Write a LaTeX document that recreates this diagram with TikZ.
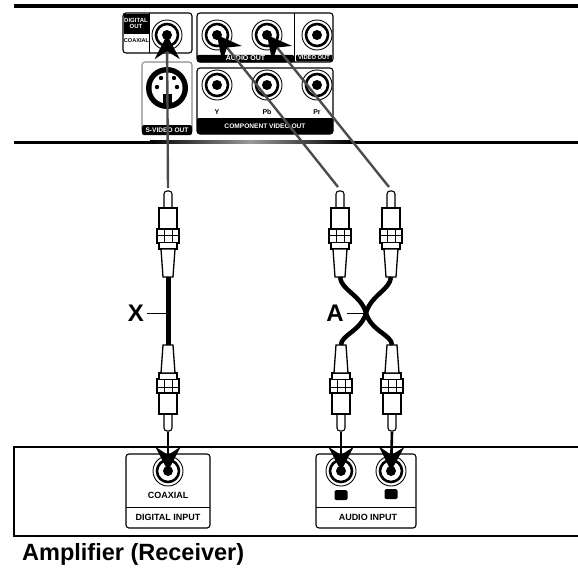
\documentclass[tikz,border=0pt]{standalone}
\usepackage{fontspec}
\setmainfont{Liberation Sans}
\usepackage{tikz}
\usetikzlibrary{positioning,calc,arrows.meta}
\tikzstyle{signal} = [line width=2.4pt, black!70, -{Stealth[length=24pt,width=25pt,inset=8pt,color=black]}]
\tikzstyle{inputsignal} = [line width=2.6pt, black, -{Stealth[length=24pt,width=25pt,inset=8pt,color=black]}]
\tikzstyle{panel} = [draw, line width=1.1pt, rounded corners=3pt, inner sep=0pt]
\tikzstyle{band} = [fill=black, rounded corners=2pt, inner sep=0pt]
\tikzstyle{ringouter} = [circle, draw, line width=0.9pt, fill=white, minimum size=30pt, inner sep=0pt]
\tikzstyle{ringinner} = [circle, draw, line width=2.6pt, minimum size=22pt, inner sep=0pt]
\tikzstyle{eye} = [circle, fill=black, minimum size=10pt, inner sep=0pt]
\tikzstyle{tinywhite} = [text=white, font=\fontsize{6}{6.5}\selectfont\bfseries, inner sep=0pt, align=center]
\tikzstyle{tinyblack} = [text=black, font=\fontsize{6}{6.5}\selectfont\bfseries, inner sep=0pt]
\tikzstyle{caption} = [text=black, font=\fontsize{9}{9.5}\selectfont\bfseries, inner sep=0pt]
\tikzstyle{cablelabel} = [font=\fontsize{24}{24}\selectfont\bfseries, inner sep=0pt]
% plug with its pin pointing up, origin at the pin end
\tikzset{rcaplug/.pic={
    \coordinate (-tip) at (0,0);
    \draw[line width=1.1pt, fill=white, rounded corners=3pt] (-4,17) -- (-4,0) -- (4,0) -- (4,17);
    \draw[line width=1.3pt, fill=white] (-9,38) -- (-9,17) -- (9,17) -- (9,38);
    \draw[line width=1.3pt, fill=white] (-11,38) rectangle (11,52);
    \draw[line width=0.8pt] (-11,44) -- (11,44) (-4,38) -- (-4,52) (4,38) -- (4,52);
    \draw[line width=1.3pt, fill=white] (-9,52) -- (-9,58) -- (9,58) -- (9,52);
    \draw[line width=1.3pt, fill=white] (-7,58) -- (-5,86) -- (5,86) -- (7,58) -- cycle;
    \coordinate (-tail) at (0,86);
}}

\begin{document}
\begin{tikzpicture}[x=1pt, y=-1pt]
    \useasboundingbox (0,0) rectangle (578,568);

    % Rules
    \coordinate (topa) at (14,6);
    \coordinate (topb) at (578,6);
    \coordinate (mida) at (14,142.5);
    \coordinate (midb) at (578,142.5);
    \draw[line width=3.4pt] (topa) -- (topb);
    \draw[line width=3.4pt] (mida) -- (midb);
    \shade[left color=black, right color=black, middle color=black!40] (150,140.8) rectangle (350,143);

    % Player panels
    \node[panel, minimum width=69pt, minimum height=40pt] (digitalout) at (157.5,33) {};
    \node[panel, draw=black!45, minimum width=50pt, minimum height=72pt] (svideoout) at (167,98) {};
    \node[panel, minimum width=136pt, minimum height=49pt] (audioout) at (265,37.5) {};
    \node[panel, minimum width=136pt, minimum height=66pt] (componentout) at (265,101) {};
    \draw[line width=1pt] (149,13) -- (149,53);
    \draw[line width=1pt] (294,13) -- (294,62);

    % Panel bands
    \node[fill=black, minimum width=25pt, minimum height=20pt, inner sep=0pt] (digitalband) at (136,23.5) {};
    \node[tinywhite] (digitaltext) at (digitalband) {DIGITAL\\OUT};
    \node[tinyblack, font=\fontsize{5.6}{6}\selectfont\bfseries] (coaxtext) at (136.5,41) {COAXIAL};
    \node[band, minimum width=50pt, minimum height=10pt] (svideoband) at (167,130) {};
    \node[tinywhite, font=\fontsize{6.6}{7}\selectfont\bfseries] (svideotext) at (svideoband) {S-VIDEO OUT};
    \node[band, minimum width=97pt, minimum height=7.5pt] (audioband) at (245.5,58.5) {};
    \node[tinywhite, font=\fontsize{7}{7}\selectfont\bfseries] (audiotext) at (audioband) {AUDIO OUT};
    \node[band, minimum width=36pt, minimum height=6.5pt, rounded corners=1pt] (videoband) at (314,58) {};
    \node[tinywhite, font=\fontsize{5.8}{6}\selectfont\bfseries] (videotext) at (videoband) {VIDEO OUT};
    \node[band, minimum width=136pt, minimum height=16pt] (componentband) at (265,126) {};
    \node[tinywhite, font=\fontsize{6.6}{7}\selectfont\bfseries] (componenttext) at (componentband) {COMPONENT VIDEO OUT};
    \node[tinyblack, font=\fontsize{7}{7}\selectfont\bfseries] (ytext) at (217,112) {Y};
    \node[tinyblack, font=\fontsize{7}{7}\selectfont\bfseries] (pbtext) at (267,112) {Pb};
    \node[tinyblack, font=\fontsize{7}{7}\selectfont\bfseries] (prtext) at (317,112) {Pr};

    % S-video socket
    \node[circle, fill=black, minimum size=42pt, inner sep=0pt] (svideo) at (167,88) {};
    \fill[white] (svideo) circle (15.5pt);
    \fill (161,78) circle (2.2pt) (174,78) circle (2.2pt) (157,87) circle (2.2pt) (177,87) circle (2.2pt);
    \fill (163,94) rectangle (172,106);

    % Sockets
    \foreach \name/\x/\y in {coaxout/167/35,audiol/217/35,audior/267/35,videoout/317/35,yout/217/85,pbout/267/85,prout/317/85,coaxin/168/471,audioinl/341/471,audioinr/391/471} {
        \node[ringouter] (\name) at (\x,\y) {};
        \node[ringinner] (\name ring) at (\name) {};
        \node[eye] (\name eye) at (\name) {};
    }

    % Plugs, upper row
    \foreach \name/\x in {xtop/168,atopl/340,atopr/391} {
        \pic (\name) at (\x,191) {rcaplug};
    }
    % Plugs, lower row
    \foreach \name/\x in {xbot/168,abotl/341,abotr/392} {
        \pic[yscale=-1] (\name) at (\x,431) {rcaplug};
    }

    % Cables
    \coordinate (across) at (366,313);
    \draw[line width=5pt] (xtop-tail) -- (xbot-tail);
    \draw[line width=4.5pt] (atopl-tail) .. controls (341,290) and (361,295) .. (across) .. controls (371,331) and (392,335) .. (abotr-tail);
    \draw[line width=4.5pt] (atopr-tail) .. controls (390,290) and (371,295) .. (across) .. controls (361,331) and (341,335) .. (abotl-tail);

    % Cable labels
    \node[cablelabel] (xlabel) at (136,313) {X};
    \node[cablelabel] (alabel) at (335,313) {A};
    \draw[line width=0.9pt] (xlabel.east) ++(3,0) -- (xtop-tail |- xlabel);
    \draw[line width=0.9pt] (alabel.east) ++(3,0) -- (across);

    % Amplifier
    \coordinate (ampa) at (578,447);
    \coordinate (ampb) at (578,536);
    \draw[line width=2.4pt] (ampa) -- (14,447) -- (14,536) -- (ampb);
    \node[panel, minimum width=84pt, minimum height=74pt] (digitalin) at (168,491) {};
    \node[panel, minimum width=100pt, minimum height=74pt] (audioin) at (366,491) {};
    \draw[line width=1pt] (126,507) -- (210,507);
    \draw[line width=1pt] (316,507) -- (416,507);
    \node[caption] (coaxialtext) at (168,495) {COAXIAL};
    \node[caption] (digitalintext) at (168,517) {DIGITAL INPUT};
    \node[caption] (audiointext) at (368,517) {AUDIO INPUT};
    \node[fill=black, rounded corners=1.5pt, minimum width=13pt, minimum height=10pt, inner sep=0pt] (markl) at (341,495) {};
    \node[fill=black, rounded corners=1.5pt, minimum width=13pt, minimum height=10pt, inner sep=0pt] (markr) at (391,494) {};

    % Signal arrows
    \draw[signal] (xtop-tip) ++(0,-3) -- (coaxout.center);
    \draw[signal] ($(atopl-tip)+(-2,-4)$) -- (audiol.center);
    \draw[signal] ($(atopr-tip)+(-2,-4)$) -- (audior.center);
    \draw[inputsignal] (xbot-tip) ++(0,1) -- (coaxin.center);
    \draw[inputsignal] (abotl-tip) ++(0,1) -- (audioinl.center);
    \draw[inputsignal] (abotr-tip) ++(0,1) -- (audioinr.center);

    % Title
    \node[anchor=base west, inner sep=0pt, font=\fontsize{23.5}{24}\selectfont\bfseries] (amplifier) at (22,560) {Amplifier (Receiver)};
\end{tikzpicture}
\end{document}
